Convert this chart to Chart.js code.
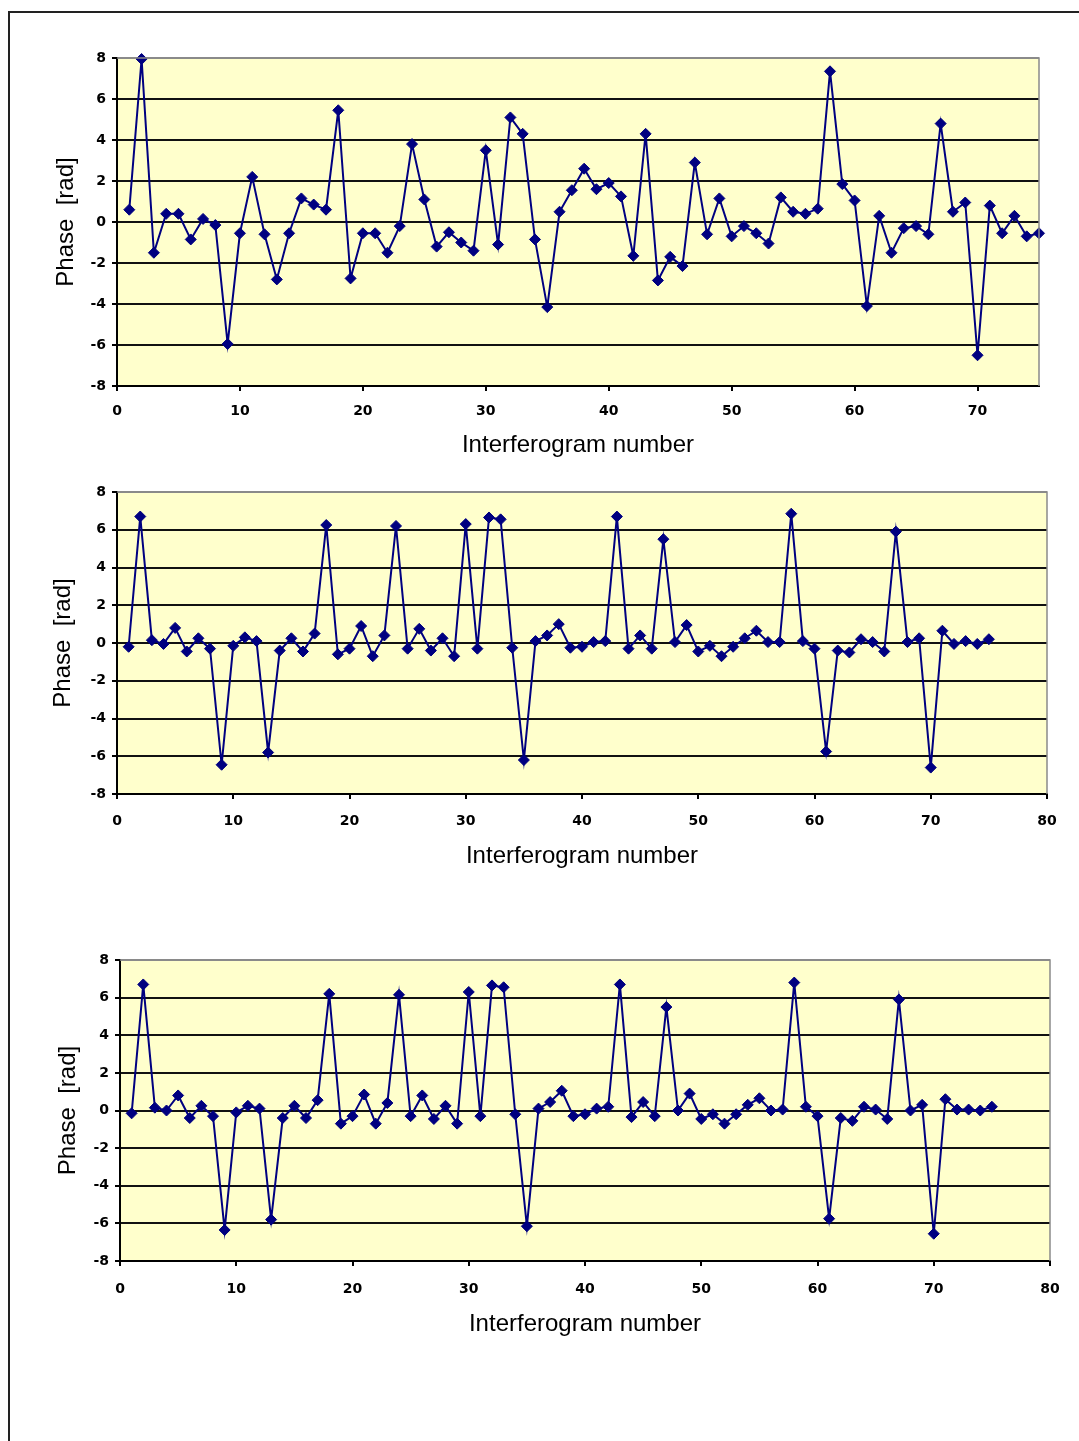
<!DOCTYPE html>
<html>
<head>
<meta charset="utf-8">
<script src="https://cdn.jsdelivr.net/npm/chart.js@4"></script>
<style>
    html, body { margin: 0; padding: 0; background: #fff; }
    body { width: 1079px; height: 1441px; position: relative; overflow: hidden; }
    .frame { position: absolute; left: 8px; top: 11px; width: 1200px; height: 1600px; border: 2px solid #222; }
    canvas { position: absolute; left: 0; }
</style>
</head>
<body>
<div class="frame"></div>
<canvas id="chartTop" width="1079" height="430" style="top:30px"></canvas>
<canvas id="chartMiddle" width="1079" height="401" style="top:470px"></canvas>
<canvas id="chartBottom" width="1079" height="404" style="top:935px"></canvas>

<script>
const interferograms = Array.from({ length: 75 }, (_, i) => i + 1);

const phaseTop = [
    0.6, 7.95, -1.5, 0.4, 0.4, -0.85, 0.15, -0.15, -5.95, -0.55,
    2.2, -0.6, -2.8, -0.55, 1.15, 0.85, 0.6, 5.45, -2.75, -0.55,
    -0.55, -1.5, -0.2, 3.8, 1.1, -1.2, -0.5, -1.0, -1.4, 3.5,
    -1.1, 5.1, 4.3, -0.85, -4.15, 0.5, 1.55, 2.6, 1.6, 1.9,
    1.25, -1.65, 4.3, -2.85, -1.7, -2.15, 2.9, -0.6, 1.15, -0.7,
    -0.2, -0.55, -1.05, 1.2, 0.5, 0.4, 0.65, 7.35, 1.85, 1.05,
    -4.1, 0.3, -1.5, -0.3, -0.2, -0.6, 4.8, 0.5, 0.95, -6.5,
    0.8, -0.55, 0.3, -0.7, -0.55
];

const phaseMiddle = [
    -0.2, 6.7, 0.15, -0.05, 0.8, -0.45, 0.25, -0.3, -6.45, -0.15,
    0.3, 0.1, -5.8, -0.4, 0.25, -0.45, 0.5, 6.25, -0.6, -0.3,
    0.9, -0.7, 0.4, 6.2, -0.3, 0.75, -0.4, 0.25, -0.7, 6.3,
    -0.3, 6.65, 6.55, -0.25, -6.2, 0.1, 0.4, 1.0, -0.25, -0.2,
    0.05, 0.1, 6.7, -0.3, 0.4, -0.3, 5.5, 0.05, 0.95, -0.45,
    -0.15, -0.7, -0.2, 0.25, 0.65, 0.05, 0.05, 6.85, 0.1, -0.3,
    -5.75, -0.4, -0.5, 0.2, 0.05, -0.45, 5.9, 0.05, 0.25, -6.6,
    0.65, -0.05, 0.1, -0.05, 0.2
];

const phaseBottom = [
    -0.15, 6.7, 0.15, 0.0, 0.8, -0.4, 0.25, -0.3, -6.35, -0.1,
    0.25, 0.1, -5.8, -0.4, 0.25, -0.4, 0.55, 6.2, -0.7, -0.3,
    0.85, -0.7, 0.4, 6.15, -0.3, 0.8, -0.45, 0.25, -0.7, 6.3,
    -0.3, 6.65, 6.55, -0.2, -6.15, 0.1, 0.45, 1.05, -0.3, -0.2,
    0.1, 0.2, 6.7, -0.35, 0.45, -0.3, 5.5, 0.0, 0.9, -0.45,
    -0.2, -0.7, -0.2, 0.3, 0.65, 0.0, 0.05, 6.8, 0.2, -0.3,
    -5.75, -0.4, -0.55, 0.2, 0.05, -0.45, 5.9, 0.0, 0.3, -6.55,
    0.6, 0.05, 0.05, 0.0, 0.2
];

const phaseTicks = [-8, -6, -4, -2, 0, 2, 4, 6, 8];
const xAxisTitle = 'Interferogram number';
const yAxisTitle = 'Phase  [rad]';

// yellow plot background with the thin grey frame on top and right
const plotFrame = {
    id: 'plotFrame',
    beforeDraw(chart) {
        const { ctx, chartArea: a } = chart;
        ctx.save();
        ctx.fillStyle = '#FFFFCC';
        ctx.fillRect(a.left, a.top, a.right - a.left, a.bottom - a.top);
        ctx.restore();
    },
    afterDraw(chart) {
        const { ctx, chartArea: a } = chart;
        ctx.save();
        ctx.strokeStyle = '#8a8a8a';
        ctx.lineWidth = 1.5;
        ctx.beginPath();
        ctx.moveTo(a.left, a.top);
        ctx.lineTo(a.right, a.top);
        ctx.lineTo(a.right, a.bottom);
        ctx.stroke();
        ctx.restore();
    }
};

document.addEventListener("DOMContentLoaded", () => {
    renderPhaseChart('chartTop', phaseTop, {
        xMax: 75, yWidth: 117, right: 40, top: 28, xHeight: 74, tickPad: 12, titlePad: 52
    });
    renderPhaseChart('chartMiddle', phaseMiddle, {
        xMax: 80, yWidth: 117, right: 32, top: 22, xHeight: 77, tickPad: 14, titlePad: 49
    });
    renderPhaseChart('chartBottom', phaseBottom, {
        xMax: 80, yWidth: 120, right: 29, top: 25, xHeight: 78, tickPad: 15, titlePad: 54
    });
});

function renderPhaseChart(canvasId, values, box) {
    const canvas = document.getElementById(canvasId);
    if (!canvas) return;

    const points = interferograms.map((n, i) => ({ x: n, y: values[i] }));
    const tickFont = { family: 'DejaVu Sans', size: 14, weight: 'bold' };
    const titleFont = { family: 'Liberation Sans', size: 24 };

    new Chart(canvas.getContext('2d'), {
        type: 'line',
        data: {
            datasets: [{
                data: points,
                borderColor: '#000080',
                backgroundColor: '#000080',
                borderWidth: 2,
                pointStyle: 'rectRot',
                pointRadius: 5.5,
                pointBorderWidth: 1,
                tension: 0,
                clip: false
            }]
        },
        options: {
            responsive: false,
            animation: false,
            layout: { padding: { top: box.top, right: box.right, left: 0, bottom: 0 } },
            plugins: {
                legend: { display: false },
                tooltip: { enabled: false }
            },
            scales: {
                x: {
                    type: 'linear',
                    min: 0,
                    max: box.xMax,
                    afterBuildTicks: scale => {
                        scale.ticks = scale.ticks.filter(t => t.value % 10 === 0);
                    },
                    afterFit: scale => { scale.height = box.xHeight; },
                    ticks: {
                        stepSize: 10,
                        color: '#000',
                        font: tickFont,
                        padding: box.tickPad,
                        maxRotation: 0,
                        autoSkip: false
                    },
                    grid: {
                        drawOnChartArea: false,
                        drawTicks: true,
                        tickLength: 5,
                        tickColor: '#000',
                        lineWidth: 2
                    },
                    border: { color: '#000', width: 2 },
                    title: {
                        display: true,
                        text: xAxisTitle,
                        color: '#000',
                        font: titleFont,
                        padding: { top: 0, bottom: 0 }
                    }
                },
                y: {
                    min: -8,
                    max: 8,
                    afterBuildTicks: scale => {
                        scale.ticks = phaseTicks.map(v => ({ value: v }));
                    },
                    afterFit: scale => { scale.width = box.yWidth; },
                    ticks: {
                        color: '#000',
                        font: tickFont,
                        padding: 6
                    },
                    grid: {
                        color: ctx => (ctx.tick && ctx.tick.value === 8 ? '#8a8a8a' : '#111'),
                        lineWidth: 2,
                        drawTicks: true,
                        tickLength: 5,
                        tickColor: '#000'
                    },
                    border: { color: '#000', width: 2 },
                    title: {
                        display: true,
                        text: yAxisTitle,
                        color: '#000',
                        font: titleFont,
                        padding: { top: box.titlePad, bottom: 0 }
                    }
                }
            }
        },
        plugins: [plotFrame]
    });
}
</script>
</body>
</html>
